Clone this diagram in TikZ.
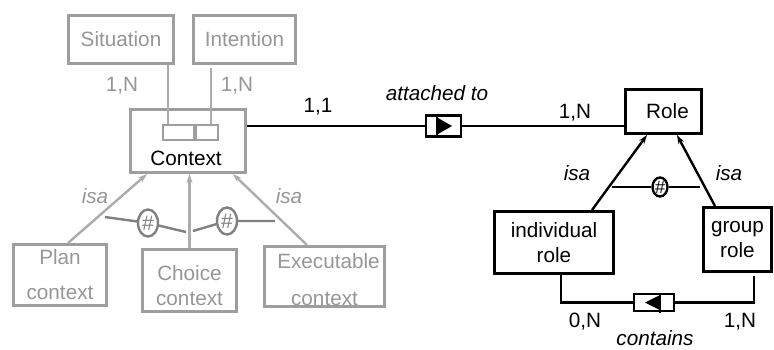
\documentclass[tikz,border=0pt]{standalone}
\usepackage{fontspec}
\setmainfont{Liberation Sans}
\usetikzlibrary{arrows.meta,shapes.geometric}
\definecolor{boxgray}{RGB}{158,158,158}
\definecolor{textgray}{RGB}{150,150,150}
\definecolor{linegray}{RGB}{172,172,172}
\definecolor{disjgray}{RGB}{128,128,128}

\tikzset{
  entity/.style={draw=black,line width=2.6pt,inner sep=0pt,align=center},
  grayentity/.style={draw=boxgray,line width=2.6pt,inner sep=0pt,align=center,text=textgray},
  keypart/.style={draw=boxgray,line width=2.4pt,inner sep=0pt},
  relbox/.style={draw=black,line width=2.2pt,inner sep=0pt,fill=white},
  txt/.style={inner sep=0pt},
  graytxt/.style={inner sep=0pt,text=textgray},
  conn/.style={line width=2.6pt},
  grayconn/.style={line width=2.4pt,draw=linegray},
  isaarrow/.style={line width=2.4pt,-{Stealth[length=9pt,width=6pt]}},
  disj/.style={ellipse,draw,line width=2.4pt,inner sep=0pt},
}

\begin{document}
\begin{tikzpicture}[x=1pt,y=-1pt,font=\fontsize{20.7}{25}\selectfont]
\useasboundingbox (0,0) rectangle (774,349);

% ---------- grey part: context hierarchy ----------
\node[grayentity,minimum width=105pt,minimum height=48.5pt] (situation) at (121,39.5) {Situation};
\node[grayentity,minimum width=102.5pt,minimum height=48.5pt] (intention) at (244.5,39.5) {Intention};
\node[grayentity,minimum width=115.4pt,minimum height=63.4pt] (context) at (188,141) {};
\node[txt] (ctxlabel) at (186,158) {Context};
\node[keypart,minimum width=31pt,minimum height=15pt] (keyL) at (178.5,132.5) {};
\node[keypart,minimum width=22pt,minimum height=15pt] (keyR) at (207,132.5) {};

\coordinate (sitfoot) at ([xshift=-10.5pt]keyL.north);
\coordinate (intfoot) at ([xshift=4pt]keyR.north);
\draw[grayconn] (sitfoot) -- (sitfoot |- situation.south);
\draw[grayconn] (intfoot) -- ([yshift=-3pt]intfoot |- intention.south);
\node[graytxt] (sitcard) at (122,86) {1,N};
\node[graytxt] (intcard) at (237,86) {1,N};

\node[grayentity,minimum width=93.4pt,minimum height=61.4pt] (plan) at (60,275) {Plan\\[10pt]context};
\node[grayentity,minimum width=94.4pt,minimum height=62.4pt] (choice) at (189.5,280.5)
  {\raisebox{-5pt}[\height][\depth]{Choice}\\\raisebox{-5pt}[\height][\depth]{context}};
\node[grayentity,minimum width=120.4pt,minimum height=60.4pt] (exec) at (324.5,276.5)
  {\raisebox{-3pt}[\height][\depth]{\hspace*{8pt}Executable}\\[12pt]\raisebox{-3pt}[\height][\depth]{context}};

\draw[isaarrow,draw=linegray] ([xshift=8pt]plan.north) -- ([xshift=-41pt]context.south);
\draw[isaarrow,draw=linegray] (choice.north) -- (choice.north |- context.south);
\draw[isaarrow,draw=linegray] ([xshift=-17.5pt]exec.north) -- ([xshift=45pt]context.south);
\node[graytxt,font=\fontsize{20.7}{25}\selectfont\itshape] (isaL) at (95,196) {isa};
\node[graytxt,font=\fontsize{20.7}{25}\selectfont\itshape] (isaR) at (289,196) {isa};

\node[disj,draw=disjgray,text=disjgray,minimum width=20pt,minimum height=27pt,
  font=\fontsize{21}{21}\selectfont] (dg1) at (148,223) {\#};
\node[disj,draw=disjgray,text=disjgray,minimum width=20pt,minimum height=27pt,
  font=\fontsize{21}{21}\selectfont] (dg2) at (227,221) {\#};
\coordinate (dga) at (105,217);
\coordinate (dgb) at (186,232);
\coordinate (dgc) at (193,231);
\coordinate (dgd) at (275,221);
\draw[line width=2.4pt,draw=disjgray] (dga) -- (dg1) -- (dgb);
\draw[line width=2.4pt,draw=disjgray] (dgc) -- (dg2) -- (dgd);

% ---------- black part: roles ----------
\node[entity,minimum width=76.4pt,minimum height=44.4pt] (role) at (663.5,111.5) {\hspace{8pt}Role};
\node[entity,minimum width=119.4pt,minimum height=62.4pt] (indiv) at (554,242.5) {individual\\role};
\node[entity,minimum width=68.4pt,minimum height=64.4pt] (group) at (737.5,239.5) {group\\role};

% relationship "attached to"
\node[relbox,minimum width=35pt,minimum height=21pt] (attached) at (443.5,126) {};
\draw[conn] (context.east |- attached.west) -- (attached.west);
\draw[conn] (attached.east) -- (attached.east -| role.west);
\begin{scope}[shift={(attached.center)}]
  \draw[line width=1.6pt] (-6.5,-10.5) -- (-6.5,10.5);
  \fill (-5.5,-8) -- (8.5,0) -- (-5.5,8) -- cycle;
\end{scope}
\node[txt] (card11) at (318,107) {1,1};
\node[txt,font=\fontsize{20.7}{25}\selectfont\itshape] (attlabel) at (437,93) {attached to};
\node[txt] (card1N) at (575,113) {1,N};

% isa arrows to Role
\draw[isaarrow] ([xshift=38pt]indiv.north) -- ([xshift=-16.5pt]role.south);
\draw[isaarrow] ([xshift=-22.5pt]group.north) -- ([xshift=13.5pt]role.south);
\node[txt,font=\fontsize{20.7}{25}\selectfont\itshape] (isa1) at (577,173) {isa};
\node[txt,font=\fontsize{20.7}{25}\selectfont\itshape] (isa2) at (729,173) {isa};
\node[disj,draw=black,fill=white,minimum width=15pt,minimum height=19pt,
  font=\fontsize{18}{18}\selectfont] (dr) at (660,187) {\#};
\coordinate (dra) at (612,187);
\coordinate (drb) at (700,187);
\draw[line width=2.2pt] (dra) -- (dr) -- (drb);

% relationship "contains"
\node[relbox,minimum width=40pt,minimum height=17pt] (contains) at (654,302.5) {};
\draw[conn] ([xshift=7pt]indiv.south) |- (contains.west);
\draw[conn] (contains.east) -| ([xshift=16.5pt,yshift=-3pt]group.south);
\begin{scope}[shift={(contains.center)}]
  \draw[line width=1.6pt] (6,-9) -- (6,10);
  \fill (6,-7.5) -- (-9,0) -- (6,7.5) -- cycle;
\end{scope}
\node[txt] (card0N) at (585,322) {0,N};
\node[txt] (cardg) at (740,322) {1,N};
\node[txt,font=\fontsize{20.7}{25}\selectfont\itshape] (contlabel) at (655,338) {contains};
\end{tikzpicture}
\end{document}
